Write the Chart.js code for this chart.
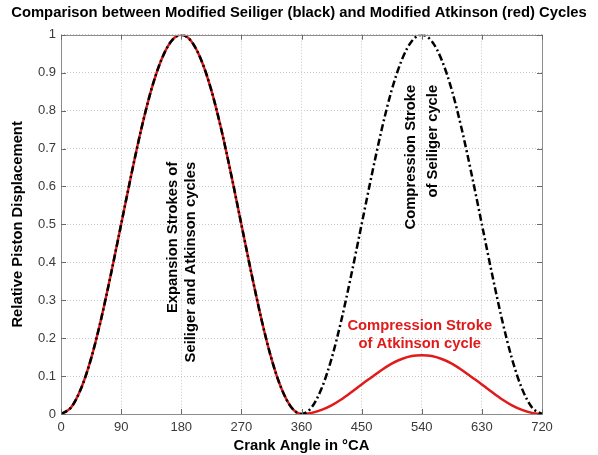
<!DOCTYPE html>
<html><head><meta charset="utf-8">
<script src="https://cdn.jsdelivr.net/npm/chart.js@4"></script>
<style>html,body{margin:0;padding:0;background:#fff}#wrap{width:598px;height:455px}</style>
</head><body><div id="wrap"><canvas id="c" width="598" height="455"></canvas></div>
<script>
const angles = [0,15,30,45,60,75,90,105,120,135,150,165,180,195,210,225,240,255,270,285,300,315,330,345,360,
  375,390,405,420,435,450,465,480,495,510,525,540,555,570,585,600,615,630,645,660,675,690,705,720];
const seiliger = [0,0.017,0.067,0.146,0.25,0.371,0.5,0.629,0.75,0.854,0.933,0.983,1,0.983,0.933,0.854,0.75,0.629,0.5,0.371,0.25,0.146,0.067,0.017,0,
  0.017,0.067,0.146,0.25,0.371,0.5,0.629,0.75,0.854,0.933,0.983,1,0.983,0.933,0.854,0.75,0.629,0.5,0.371,0.25,0.146,0.067,0.017,0];
const atkinson = [0,0.017,0.067,0.146,0.25,0.371,0.5,0.629,0.75,0.854,0.933,0.983,1,0.983,0.933,0.854,0.75,0.629,0.5,0.371,0.25,0.146,0.067,0.017,0,
  0.003,0.011,0.023,0.039,0.058,0.078,0.097,0.116,0.133,0.145,0.153,0.155,0.153,0.145,0.133,0.116,0.097,0.078,0.058,0.039,0.023,0.011,0.003,0];
const xTicks = [0,90,180,270,360,450,540,630,720];
const yTicks = [0,0.1,0.2,0.3,0.4,0.5,0.6,0.7,0.8,0.9,1];
const titleText = 'Comparison between Modified Seiliger (black) and Modified Atkinson (red) Cycles';
const xLabel = 'Crank Angle in °CA';
const yLabel = 'Relative Piston Displacement';
const notes = [
  {lines:['Expansion Strokes of','Seiliger and Atkinson cycles'], x:[167,194], y:0.665, rot:true, color:'#000'},
  {lines:['Compression Stroke','of Seiliger cycle'], x:[524,556], y:0.868, rot:true, color:'#000'},
  {lines:['Compression Stroke','of Atkinson cycle'], x:[537,537], y:[0.232,0.185], rot:false, color:'#e01b1b'}
];

const FONT = "'Liberation Sans', Arial, sans-serif";

const framePlugin = {
  id:'frame',
  afterDraw(chart){
    const {ctx, chartArea:a, scales} = chart;
    ctx.save();
    ctx.strokeStyle = '#8c8c8c';
    ctx.lineWidth = 1;
    ctx.strokeRect(Math.round(a.left)+0.5, Math.round(a.top)+0.5, Math.round(a.right-a.left), Math.round(a.bottom-a.top));
    ctx.strokeStyle = '#6a6a6a';
    ctx.beginPath();
    xTicks.forEach(v=>{const px=Math.round(scales.x.getPixelForValue(v))+0.5;
      ctx.moveTo(px,a.bottom); ctx.lineTo(px,a.bottom-5); ctx.moveTo(px,a.top); ctx.lineTo(px,a.top+5);});
    yTicks.forEach(v=>{const py=Math.round(scales.y.getPixelForValue(v))+0.5;
      ctx.moveTo(a.left,py); ctx.lineTo(a.left+5,py); ctx.moveTo(a.right,py); ctx.lineTo(a.right-5,py);});
    ctx.stroke();
    ctx.restore();
  },
  afterDatasetsDraw(chart){
    const {ctx, scales} = chart;
    ctx.save();
    ctx.font = 'bold 14.8px ' + FONT;
    notes.forEach(n=>{
      ctx.fillStyle = n.color;
      n.lines.forEach((t,i)=>{
        const px = scales.x.getPixelForValue(n.x[i]);
        if(n.rot){
          const py = scales.y.getPixelForValue(n.y);
          ctx.save(); ctx.translate(px,py); ctx.rotate(-Math.PI/2);
          ctx.textAlign='right'; ctx.textBaseline='middle';
          ctx.fillText(t,0,0); ctx.restore();
        } else {
          const py = scales.y.getPixelForValue(n.y[i]);
          ctx.textAlign='center'; ctx.textBaseline='middle';
          ctx.fillText(t,px,py);
        }
      });
    });
    ctx.restore();
  }
};

new Chart(document.getElementById('c'), {
  type:'line',
  data:{
    labels: angles,
    datasets:[
      {label:'Seiliger', data: angles.map((a,i)=>({x:a,y:seiliger[i]})), borderColor:'#000', borderWidth:2.5,
       borderDash:[7,3,2,3], pointRadius:0, cubicInterpolationMode:'monotone', fill:false},
      {label:'Atkinson', data: angles.map((a,i)=>({x:a,y:atkinson[i]})), borderColor:'#e01b1b', borderWidth:2.5,
       pointRadius:0, cubicInterpolationMode:'monotone', fill:false}
    ]
  },
  options:{
    responsive:false, animation:false, devicePixelRatio:1,
    layout:{padding:{left:0,right:0,top:0,bottom:0}},
    plugins:{
      legend:{display:false}, tooltip:{enabled:false},
      title:{display:true, text:titleText, color:'#000', font:{family:FONT, size:14.8, weight:'bold'}, padding:{top:4,bottom:13}}
    },
    scales:{
      x:{type:'linear', min:0, max:720,
        afterBuildTicks(s){ s.ticks = xTicks.map(v=>({value:v})); },
        afterFit(s){ s.height = 41; s.paddingLeft=0; s.paddingRight=56; },
        ticks:{color:'#3a3a3a', font:{family:FONT,size:13}, padding:6, maxRotation:0, autoSkip:false},
        grid:{color:'#c8c8c8', lineWidth:1, drawTicks:false},
        border:{display:false, dash:[1,2]},
        title:{display:true, text:xLabel, color:'#000', font:{family:FONT,size:14.8,weight:'bold'}, padding:{top:0,bottom:0}}
      },
      y:{type:'linear', min:0, max:1,
        afterBuildTicks(s){ s.ticks = yTicks.map(v=>({value:v})); },
        afterFit(s){ s.width = 61; s.paddingTop=0; s.paddingBottom=0; },
        ticks:{color:'#3a3a3a', font:{family:FONT,size:13}, padding:5, autoSkip:false, callback:(v)=>String(v)},
        grid:{color:'#c8c8c8', lineWidth:1, drawTicks:false},
        border:{display:false, dash:[1,2]},
        title:{display:true, text:yLabel, color:'#000', font:{family:FONT,size:14.8,weight:'bold'}, padding:{top:9,bottom:0}}
      }
    }
  },
  plugins:[framePlugin]
});
</script></body></html>
